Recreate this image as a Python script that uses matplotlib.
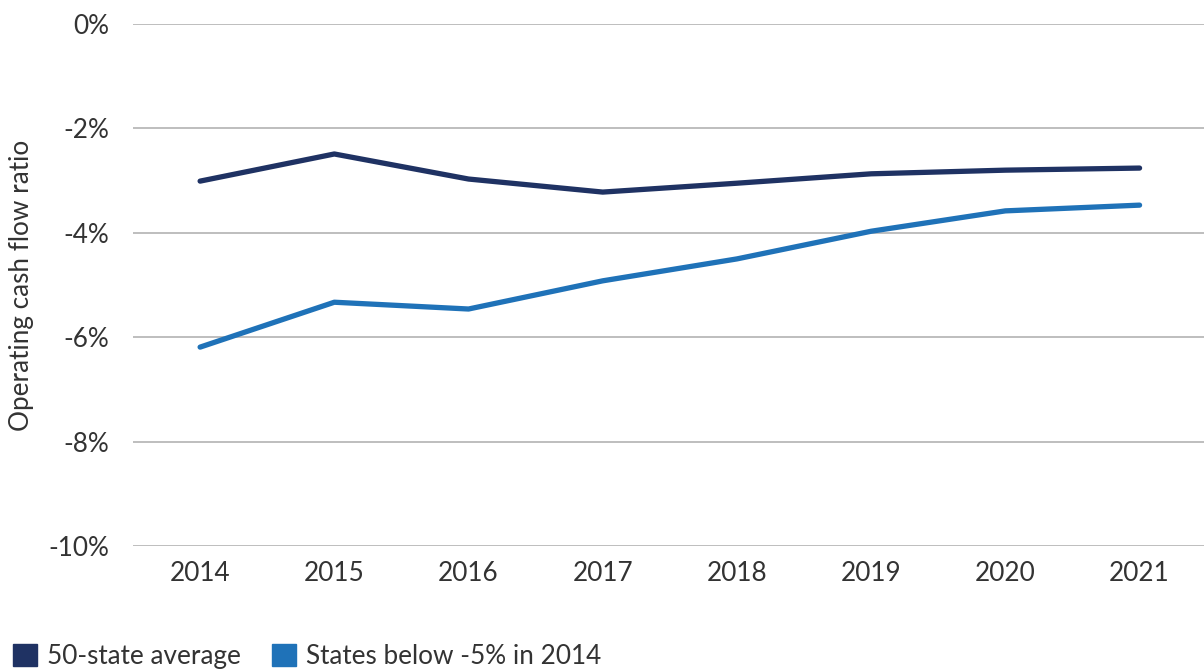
import matplotlib
matplotlib.use("Agg")
import matplotlib.pyplot as plt
from matplotlib.patches import Patch
from matplotlib.ticker import FuncFormatter

years = [2014, 2015, 2016, 2017, 2018, 2019, 2020, 2021]
avg_50_state = [-3.01, -2.49, -2.97, -3.22, -3.05, -2.87, -2.80, -2.76]
below_5 = [-6.19, -5.33, -5.46, -4.92, -4.50, -3.97, -3.58, -3.47]
yticks = [0, -2, -4, -6, -8, -10]

dark = "#1f3263"
light = "#1f72b8"
txt = "#333333"
fs = 18.8

plt.rcParams['font.family'] = ['Lato', 'DejaVu Sans']

fig = plt.figure(figsize=(12.04, 6.69), dpi=100)
ax = fig.add_axes([133/1204, 1-546/669, 1-133/1204, (546-24)/669])

ax.plot(years, avg_50_state, color=dark, lw=3.8, solid_capstyle='round', zorder=3)
ax.plot(years, below_5, color=light, lw=3.8, solid_capstyle='round', zorder=3)

ax.set_xlim(2013.5, 2021.48)
ax.set_ylim(-10, 0)
ax.set_yticks(yticks)
ax.set_xticks(years)
ax.yaxis.set_major_formatter(FuncFormatter(lambda v, p: f"{v:.0f}%"))
ax.grid(axis='y', color='#b3b3b3', lw=1.2)
ax.set_axisbelow(True)
for s in ax.spines.values():
    s.set_visible(False)
ax.tick_params(axis='both', length=0, labelsize=fs, colors=txt)
ax.tick_params(axis='y', pad=17)
ax.tick_params(axis='x', pad=11)
ax.set_ylabel("Operating cash flow ratio", fontsize=fs, color=txt)
ax.yaxis.set_label_coords(-(133 - 34) / 1071, 0.5)

handles = [Patch(color=dark, label="50-state average"),
           Patch(color=light, label="States below -5% in 2014")]
fig.legend(handles=handles, loc='lower left', bbox_to_anchor=(-5/1204, -0.0275), ncol=2,
           frameon=False, fontsize=fs, handlelength=0.9, handleheight=0.9,
           handletextpad=0.4, columnspacing=1.2, labelcolor=txt, borderaxespad=0.3)

fig.savefig("out.png", dpi=100)
